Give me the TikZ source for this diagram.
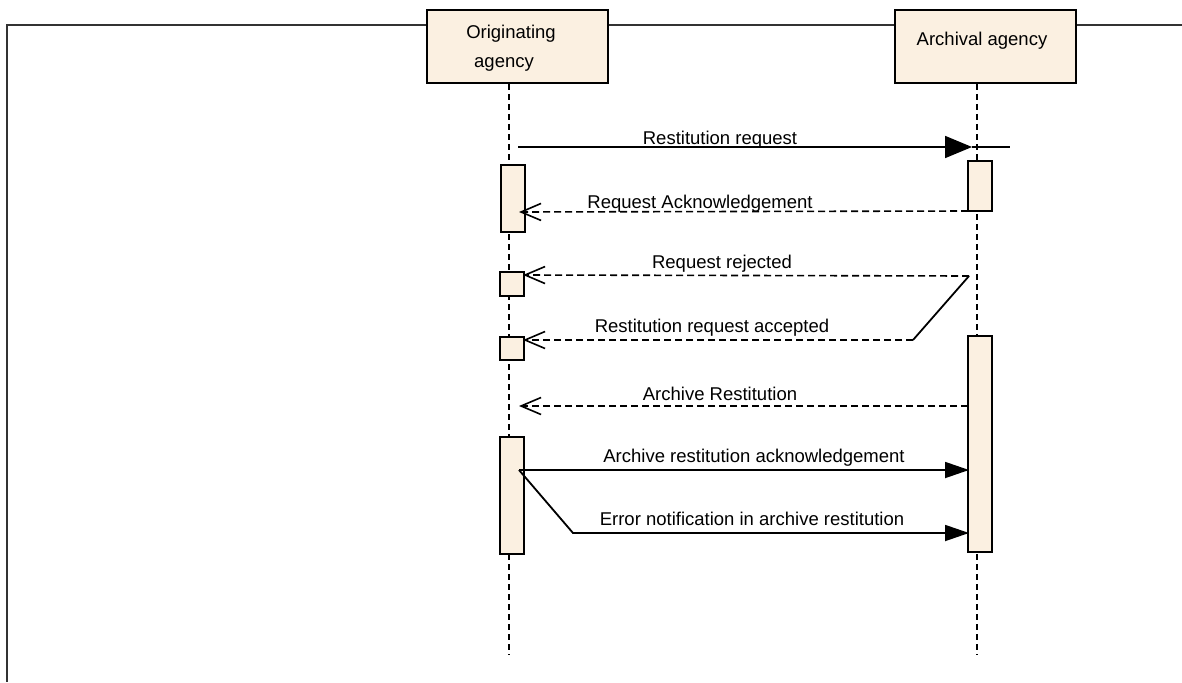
\documentclass[tikz,border=0pt]{standalone}
\usepackage{fontspec}
\setmainfont{Liberation Sans}
\usepackage{tikz}
\usetikzlibrary{arrows.meta, positioning}
\usepackage{xcolor}
\definecolor{actorfill}{RGB}{251,240,225}

\begin{document}
\begin{tikzpicture}[x=1pt,y=-1pt,font=\fontsize{18.5}{29}\selectfont]
  \tikzstyle{actor}=[draw,line width=2pt,fill=actorfill,minimum width=181pt,minimum height=73pt,inner sep=0pt]
  \tikzstyle{activation}=[draw,line width=2pt,fill=actorfill,minimum width=24pt,inner sep=0pt]
  \tikzstyle{lifeline}=[line width=1.6pt,dash pattern=on 6pt off 4pt]
  \tikzstyle{call}=[line width=1.8pt,-{Triangle[length=24pt,width=16pt]}]
  \tikzstyle{reply}=[line width=1.6pt,dash pattern=on 7pt off 4pt,-{Straight Barb[length=20pt,width=17pt]}]
  \tikzstyle{msg}=[anchor=base,inner sep=0pt]

  \useasboundingbox (0,0) rectangle (1182,682);
  \draw[line width=1.5pt,black!80] (1182,25) -- (7,25) -- (7,682);

  \node[actor] (orig) at (517.5,46.5) {};
  \node[actor] (arch) at (985,46.5)   {};
  \node[msg] (orig l1) at (511,39) {Originating};
  \node[msg] (orig l2) at (504,68) {agency};
  \node[msg] (arch l)  at (982,46) {Archival agency};

  \coordinate (orig end) at (509,655);
  \coordinate (arch end) at (977,655);
  \draw[lifeline] (orig.south -| orig end) -- (orig end);
  \draw[lifeline] (arch.south -| arch end) -- (arch end);

  \node[activation,minimum height=67pt]  (o1) at (512.5,198.5) {};
  \node[activation,minimum height=50pt]  (a1) at (980,186)     {};
  \node[activation,minimum height=24pt]  (o2) at (512,284)     {};
  \node[activation,minimum height=23pt]  (o3) at (512,348.5)   {};
  \node[activation,minimum height=216pt] (a2) at (980,444)     {};
  \node[activation,minimum height=117pt] (o4) at (512,495.5)   {};

  \coordinate (rq s)  at (518,147);
  \coordinate (rq e)  at (972,147);
  \coordinate (rq x)  at (1010,147);
  \coordinate (ack s) at (968,211);
  \coordinate (ack e) at (519,212);
  \coordinate (rej s) at (969,276);
  \coordinate (rej e) at (523,275);
  \coordinate (acc k) at (913,340);
  \coordinate (acc e) at (523,340);
  \coordinate (ar s)  at (968,406);
  \coordinate (ar e)  at (519,406);
  \coordinate (aa s)  at (519,470);
  \coordinate (aa e)  at (969,470);
  \coordinate (err k) at (573,533);
  \coordinate (err e) at (969,533);

  \draw[line width=1.8pt] (rq e) -- (rq x);
  \draw[call,-{Triangle[length=27pt,width=22pt]}] (rq s) -- (rq e);
  \draw[reply] (ack s) -- (ack e);
  \draw[reply] (rej s) -- (rej e);
  \draw[line width=1.8pt] (rej s) -- (acc k);
  \draw[reply] (acc k) -- (acc e);
  \draw[reply] (ar s) -- (ar e);
  \draw[call] (aa s) -- (aa e);
  \draw[call] (aa s) -- (err k) -- (err e);

  \node[msg] (rq l)  at (720,144) {Restitution request};
  \node[msg] (ack l) at (700,208) {Request Acknowledgement};
  \node[msg] (rej l) at (722,268) {Request rejected};
  \node[msg] (acc l) at (712,332) {Restitution request accepted};
  \node[msg] (ar l)  at (720,400) {Archive Restitution};
  \node[msg] (aa l)  at (754,462) {Archive restitution acknowledgement};
  \node[msg] (err l) at (752,525) {Error notification in archive restitution};
\end{tikzpicture}
\end{document}
